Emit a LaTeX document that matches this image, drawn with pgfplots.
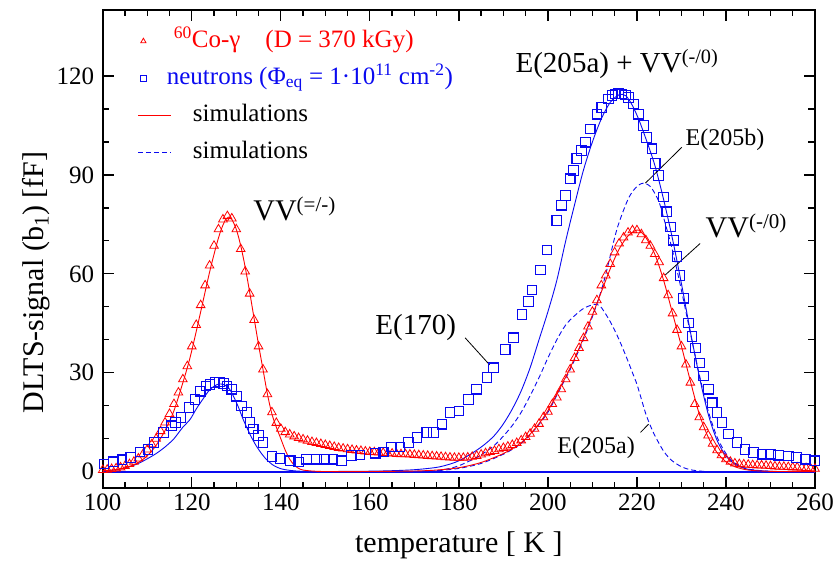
\documentclass[border=0pt]{standalone}
\usepackage{pgfplots}
\pgfplotsset{compat=1.18}
\usepackage{fontspec}
\setmainfont{Liberation Serif}
\newfontfamily\lserif{Liberation Serif}
\definecolor{myred}{RGB}{255,0,0}
\definecolor{myblue}{RGB}{10,10,240}
\pgfplotsset{
 markleg/.style={legend image code/.code={\draw[##1] plot coordinates {(5pt,0pt)}; \path (0pt,0pt) (33pt,0pt);}},
 lineleg/.style={legend image code/.code={\draw[##1] (0pt,0pt) -- (33pt,0pt);}},
}
\begin{document}
\begin{tikzpicture}
\begin{axis}[
 scale only axis, width=712pt, height=478pt,
 xmin=100, xmax=260, ymin=-5, ymax=140,
 xtick={100,120,...,260}, ytick={0,30,...,120},
 xticklabels={100,120,140,160,180,200,220,240,260},
 yticklabels={0,30,60,90,120},
 minor x tick num=3, minor y tick num=2,
 tick align=inside,
 major tick length=11pt, minor tick length=6.5pt,
 axis line style={line width=1.8pt},
 every tick/.style={line width=1.3pt, black},
 tick label style={font=\lserif\fontsize{25}{30}\selectfont},
 xticklabel style={yshift=-2pt},
 yticklabel style={xshift=-5pt},
 xlabel={temperature [ K ]},
 ylabel={DLTS-signal (b\textsubscript{1}) [fF]},
 label style={font=\fontsize{30}{36}\selectfont},
 xlabel style={yshift=-14pt},
 ylabel style={at={(ticklabel cs:0.43)}},
 legend style={at={(axis description cs:0,1)}, anchor=north west, xshift=35pt, yshift=-15pt,
   draw=none, fill=none, font=\lserif\fontsize{25}{30}\selectfont, row sep=5pt, inner sep=0pt,
   nodes={inner sep=2pt, text height=20pt, text depth=8pt}},
 legend cell align=left,
 clip=true,
]
% legend entries
\addlegendimage{only marks, mark=triangle, mark size=3pt, myred, line width=0.8pt, markleg}
\addlegendentry{\color{myred}$^{\mathrm{60}}$Co-γ\quad (D = 370 kGy)}
\addlegendimage{only marks, mark=square, mark size=2.8pt, myblue, line width=0.8pt, markleg}
\addlegendentry{\color{myblue}\hspace{-7pt}neutrons (Φ\textsubscript{eq} = 1·10\textsuperscript{11} cm\textsuperscript{-2})}
\addlegendimage{myred, line width=0.9pt, lineleg}
\addlegendentry{\hspace{19pt}simulations}
\addlegendimage{myblue, dash pattern=on 5pt off 3pt, line width=0.9pt, lineleg}
\addlegendentry{\hspace{19pt}simulations}

% baseline
\addplot[myblue, line width=2pt, forget plot] coordinates {(100,0) (260,0)};

% E(205a) dashed
\addplot[myblue, dash pattern=on 5pt off 3pt, line width=0.9pt, forget plot, smooth] coordinates {
(175,0.3) (178,1.0) (180,1.8) (182,3.0) (184,4.3) (186,6.0) (188,8.0) (190,10.8) (192,14.0) (194,18.0)
(196,23.0) (198,28.5) (200,34.5) (202,40.0) (204,44.5) (206,47.3) (208,49.5) (210,50.6) (211,50.7)
(212,49.8) (214,45.5) (216,40.0) (218,33.5) (219,30.0) (220,26.5) (221,22.0) (222,17.5) (223,14.0)
(224,11.0) (225,8.5) (226,6.2) (227,4.5) (228,3.2) (230,1.5) (232,0.6) (235,0.1) (240,0)};

% E(205b) dashed
\addplot[myblue, dash pattern=on 5pt off 3pt, line width=0.9pt, forget plot, smooth] coordinates {
(170,0.1) (175,0.3) (180,1.0) (185,2.5) (190,5.3) (193,7.6) (195,9.8) (197.5,13.5) (200,18.0) (202.5,24.5)
(205,31.0) (207.5,38.5) (210,47.0) (212,55.0) (213.3,61.5) (215.5,73.5) (217.8,82.0) (219.2,85.3)
(220.5,87.0) (221.5,87.5) (222.5,87.0) (223.4,85.8) (224.9,82.0) (226,77.0) (228,67.0) (230,55.0)
(232,42.0) (234,29.5) (236,18.5) (238,10.5) (240,5.5) (242,2.6) (245,0.8) (250,0.1) (255,0)};

% blue simulation total
\addplot[myblue, line width=0.9pt, forget plot, smooth] coordinates {
(100,0.2) (103,0.6) (106,1.5) (108,2.5) (110,3.9) (112,5.5) (114,7.5) (116,10.0) (118,13.5) (119.6,15.8)
(121,19.0) (122.5,22.0) (124,24.8) (125.5,26.3) (126.5,26.6) (127.5,26.2) (128.5,25.0) (129.5,22.5)
(130.5,19.5) (131.5,16.0) (132.5,13.0) (133.5,10.2) (134.5,7.8) (135.5,5.8) (136.5,4.1) (137.5,2.8)
(138.5,1.8) (140,0.9) (142,0.4) (145,0.1) (150,0.05) (160,0.15) (165,0.3) (170,0.6) (175,1.3) (178,2.3)
(180,3.3) (182,4.8) (184,6.5) (186,8.5) (188,11.0) (190,14.5) (192,19.0) (194,24.5) (196,31.5) (198,40.0)
(200,48.5) (202,58.0) (204,70.0) (206,81.0) (208,91.5) (210,100.0) (212,107.0) (214,112.0) (216,114.3)
(217.5,114.0) (219,111.0) (220.5,106.5) (222,101.0) (224,93.0) (226,82.5) (228,70.5) (230,57.0)
(232,42.5) (234,29.0) (236,17.5) (238,9.5) (240,4.8) (242,2.3) (245,0.7) (250,0.1) (255,0) (260,0)};

% red simulation
\addplot[myred, line width=0.9pt, forget plot, smooth] coordinates {
(100,0.3) (102,0.5) (104,0.9) (106,1.6) (108,2.8) (110,4.8) (112,8.0) (114,12.5) (116,18.5) (118,27.0)
(119.5,34.0) (121,42.5) (122.5,51.5) (124,60.5) (125.5,68.5) (126.5,73.0) (127.5,76.2) (128.3,77.2)
(129,76.5) (130,73.5) (131,68.5) (132,62.0) (133,54.5) (134,46.5) (135,38.5) (136,31.0) (137,23.5)
(138,17.5) (139,13.5) (140,10.0) (141,6.5) (142,3.8) (143,2.0) (144,1.0) (145,0.5) (147,0.2) (150,0.05)
(160,0.05) (170,0.2) (175,0.5) (180,1.2) (185,2.8) (190,5.5) (193,7.8) (195,10.0) (197.5,13.7) (200,18.5)
(202.5,24.8) (205,31.5) (207.5,39.0) (210,47.5) (212,54.5) (214,61.5) (216,67.5) (218,71.5) (219.5,73.0)
(220.5,73.2) (222,71.0) (224,66.0) (226,58.0) (228,48.0) (230,38.0) (232,27.5) (234,17.5) (236,10.5)
(238,5.8) (240,3.0) (242,1.5) (245,0.5) (250,0.1) (260,0)};

% Co-60 gamma data
\addplot[only marks, mark=triangle, mark size=5pt, myred, line width=0.8pt, forget plot] coordinates {
(100,0.5) (101,0.6) (102,0.8) (103,1.0) (104,1.3) (105,1.7) (106,2.3) (107,3.0) (108,4.0) (109,5.2)
(110,6.7) (111,8.3) (112,10.0) (113,12.3) (114,14.9) (115,17.5) (116,20.5) (117,24.0) (118,28.0) (119,32.0)
(120,38.0) (121,44.5) (122,50.5) (123,56.5) (124,62.5) (125,68.5) (126,73.5) (127,76.5) (128,77.5) (129,76.8)
(130,73.5) (131,67.5) (132,60.7) (133,54.0) (134,46.0) (135,38.0) (136,31.0) (137,23.5) (138,18.0) (139,14.8)
(140,13.0) (141,12.0) (142,11.3) (143,10.7) (144,10.2) (145,9.8) (146,9.4) (147,9.0) (148,8.7) (149,8.4)
(150,8.1) (151,7.8) (152,7.5) (153,7.2) (154,7.0) (155,6.8) (156,6.6) (157,6.4) (158,6.3) (159,6.1)
(160,6.0) (161,5.9) (162,5.8) (163,5.7) (164,5.6) (165,5.5) (166,5.4) (167,5.3) (168,5.3) (169,5.2)
(170,5.1) (171,5.0) (172,4.9) (173,4.8) (174,4.7) (175,4.6) (176,4.5) (177,4.4) (178,4.3) (179,4.2)
(180,4.2) (181,4.2) (182,4.3) (183,4.5) (184,4.8) (185,5.2) (186,5.6) (187,6.0) (188,6.3) (189,6.8)
(190,7.2) (191,7.6) (192,8.1) (193,8.7) (194,9.5) (195,10.5) (196,11.5) (197,13.0) (198,14.5) (199,16.5)
(200,18.2) (201,20.5) (202,22.5) (203,25.0) (204,28.0) (205,31.0) (206,34.5) (207,37.5) (208,40.5) (209,44.0)
(210,48.5) (211,52.0) (212,56.5) (213,59.5) (214,63.0) (215,66.5) (216,69.2) (217,71.0) (218,72.5) (219,73.2)
(220,73.2) (221,72.0) (222,70.2) (223,68.5) (224,66.0) (225,63.5) (226,58.7) (227,53.5) (228,48.0) (229,43.0)
(230,38.0) (231,32.5) (232,27.0) (233,20.5) (234,16.5) (235,13.5) (236,11.0) (237,8.5) (238,6.5) (239,5.0)
(240,3.8) (241,3.0) (242,2.5) (243,2.3) (244,2.2) (245,2.1) (246,2.0) (247,1.9) (248,1.9) (249,1.8)
(250,1.7) (251,1.6) (252,1.5) (253,1.5) (254,1.4) (255,1.3) (256,1.3) (257,1.2) (258,1.1) (259,1.0) (260,0.9)};

% neutron data
\addplot[only marks, mark=square, mark size=4.8pt, myblue, line width=1.1pt, forget plot] coordinates {
(100.3,2.3) (102.4,3.0) (104.3,3.6) (106.3,4.3) (108.4,6.0) (110.2,6.8) (111.5,8.9) (113.6,11.9) (115.5,13.9)
(116.4,14.9) (117.6,16.4) (119.4,19.4) (120.7,21.9) (121.9,24.4) (123.2,26.0) (124.1,26.5) (125.2,27.0)
(126.2,27.2) (127.2,26.8) (127.9,26.0) (129.0,25.0) (130.1,22.9) (131.2,19.9) (132.4,17.9) (133.1,14.9)
(133.8,12.9) (135.0,10.9) (136.0,8.9) (138.0,4.6) (139.8,4.0) (142.1,3.3) (144.0,2.9) (145.8,3.8)
(148.0,3.8) (149.8,3.8) (151.7,3.8) (153.6,3.3) (155.9,4.9) (157.8,5.1) (161.2,5.6) (163.0,6.0)
(164.9,7.5) (166.8,7.5) (168.7,8.9) (170.6,10.4) (172.8,11.9) (174.3,11.9) (176.2,14.4) (178.0,17.9)
(180.0,18.4) (182.2,21.9) (184.0,25.0) (186.3,28.5) (187.8,31.5) (190.4,37.0) (192.3,40.6) (194.2,47.6)
(195.6,51.6) (196.4,55.1) (198.3,61.2) (199.8,67.2) (202.0,76.2) (203.1,80.8) (203.9,83.7) (205.0,88.8)
(205.8,91.3) (206.5,94.9) (207.6,97.4) (208.4,99.9) (209.5,103.9) (211.0,108.4) (212.1,110.4) (213.6,113.0)
(214.4,114.0) (215.1,114.5) (215.9,114.7) (216.6,114.5) (217.4,114.2) (218.1,113.5) (219.2,111.5) (220.4,108.4)
(221.5,104.9) (222.2,101.4) (223.4,97.9) (224.1,93.4) (224.9,89.8) (226.0,83.3) (226.7,78.8) (227.5,74.2)
(228.2,70.2) (229.0,65.2) (229.7,59.5) (230.5,52.6) (231.6,45.1) (232.4,41.0) (233.1,37.5) (234.0,33.0)
(235.0,29.0) (236.1,25.0) (236.9,20.9) (238.0,17.9) (239.1,14.9) (240.6,11.4) (242.5,8.9) (244.3,6.8)
(246.2,5.8) (248.1,5.3) (250.0,5.3) (251.8,5.0) (254.1,4.8) (255.9,4.3) (257.8,3.8) (260.0,3.3)};

% annotations
\node[anchor=base west, font=\fontsize{30}{36}\selectfont, inner sep=0pt] at (axis cs:133.8,76.2) {VV\textsuperscript{(=/-)}};
\node[anchor=base west, font=\fontsize{29}{36}\selectfont, inner sep=0pt] at (axis cs:192.7,120.9) {E(205a) + VV\textsuperscript{(-/0)}};
\node[anchor=base west, font=\fontsize{29}{36}\selectfont, inner sep=0pt] at (axis cs:161.2,41.5) {E(170)};
\node[anchor=base west, font=\fontsize{24}{30}\selectfont, inner sep=0pt] at (axis cs:230.9,98.9) {E(205b)};
\node[anchor=base west, font=\fontsize{30}{36}\selectfont, inner sep=0pt] at (axis cs:235.4,71.1) {VV\textsuperscript{(-/0)}};
\node[anchor=base west, font=\fontsize{24}{30}\selectfont, inner sep=0pt] at (axis cs:202.1,5.6) {E(205a)};
\draw[line width=0.8pt] (axis cs:181.4,40.6) -- (axis cs:186.9,32.4);
\draw[line width=0.8pt] (axis cs:230.1,98.4) -- (axis cs:221.9,87.5);
\draw[line width=0.8pt] (axis cs:234.2,69.2) -- (axis cs:226.4,59.7);
\draw[line width=0.8pt] (axis cs:220.8,11.9) -- (axis cs:222.6,14.4);
\end{axis}
\pgfresetboundingbox
\useasboundingbox ([shift={(-102.7pt,-75pt)}]current axis.south west) rectangle ([shift={(20pt,10pt)}]current axis.north east);
\end{tikzpicture}
\end{document}
